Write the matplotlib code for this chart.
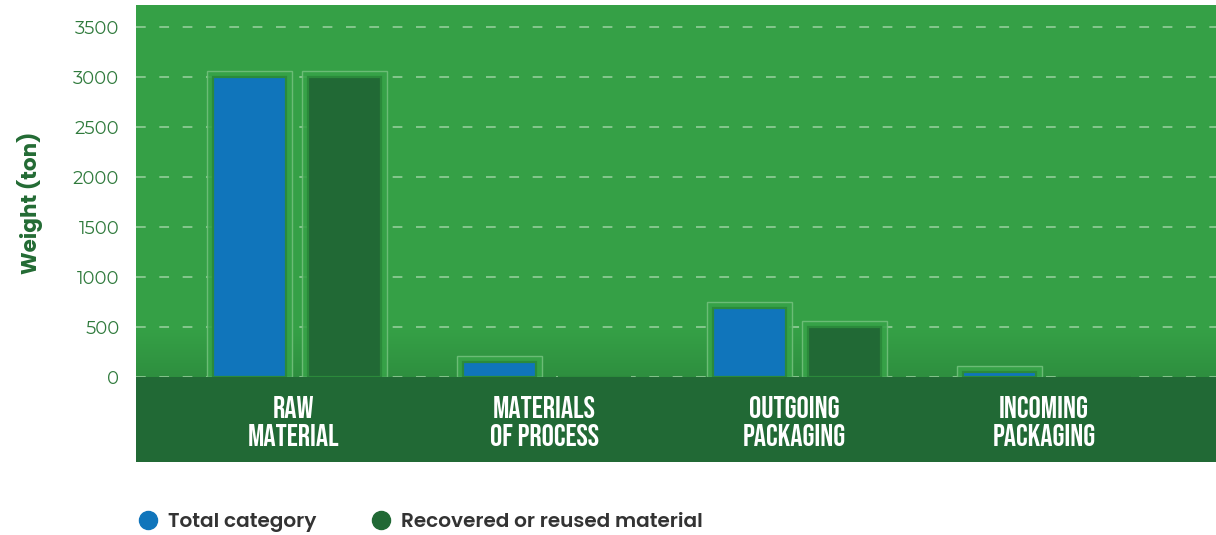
import matplotlib

matplotlib.use("Agg")
import matplotlib.pyplot as plt
import numpy as np
from matplotlib.colors import LinearSegmentedColormap
from matplotlib.lines import Line2D

categories = ["RAW\nMATERIAL", "MATERIALS\nOF PROCESS", "OUTGOING\nPACKAGING", "INCOMING\nPACKAGING"]
total_category = [3000, 150, 690, 50]
recovered = [3000, 0, 500, 0]
series_labels = ["Total category", "Recovered or reused material"]
y_ticks = [0, 500, 1000, 1500, 2000, 2500, 3000, 3500]

BG_GREEN = "#35a046"
BAND_GREEN = "#216935"
BLUE = "#1075bb"
DARK_GREEN = "#216935"
OUTLINE = "#72c07c"
DIGITS = ["Montserrat Alternates", "Poppins", "DejaVu Sans"]
SANS = ["Poppins", "Lato", "DejaVu Sans"]
CONDENSED = ["Bebas Neue", "Oswald", "DejaVu Sans"]

fig = plt.figure(figsize=(12.16, 5.35), dpi=100)
ax = fig.add_axes([136 / 1216, 73 / 535, 1 - 136 / 1216, 457 / 535])

x = np.arange(len(categories))
xmin, xmax = -0.644, 3.676
ymin, ymax = -850, 3720
ax.set_xlim(xmin, xmax)
ax.set_ylim(ymin, ymax)

# flat green, slightly darker towards the baseline, dark band below zero
ax.axhspan(0, ymax, color=BG_GREEN, zorder=0, linewidth=0)
grad = np.linspace(1, 0, 100).reshape(-1, 1)
cmap = LinearSegmentedColormap.from_list("g", [BG_GREEN, "#2e8f3f"])
ax.imshow(grad, extent=[xmin, xmax, 0, 470], aspect="auto", cmap=cmap, zorder=0.5,
          origin="lower", vmin=0, vmax=1)
ax.axhspan(ymin, 0, color=BAND_GREEN, zorder=3, linewidth=0)

for t in y_ticks:
    ax.axhline(t, color="#9ad09f", linewidth=1.4, dashes=(5, 7), zorder=1, alpha=0.8)

width = 0.29
offset = 0.19
pad_x = 0.024
pad_y = 60
for vals, sign, color in [(total_category, -1, BLUE), (recovered, 1, DARK_GREEN)]:
    pos = x + sign * offset
    for p, v in zip(pos, vals):
        if v <= 0:
            continue
        ax.bar(p, v + pad_y, width=width + 2 * pad_x, color="#37a348",
               edgecolor=OUTLINE, linewidth=1.0, alpha=0.9, zorder=1.5)
    ax.bar(pos, vals, width=width, color=color, edgecolor="#2b8a3b", linewidth=1.6, zorder=2)

for xi, lab in zip(x - 0.012, categories):
    ax.text(xi, -440, lab, ha="center", va="center", color="white", fontsize=22,
            family=CONDENSED, linespacing=1.3, zorder=4)

ax.set_xticks([])
ax.set_yticks(y_ticks)
ax.set_yticklabels([str(t) for t in y_ticks], color="#2f7a3c", fontsize=13, family=DIGITS)
ax.tick_params(axis="y", length=0, pad=12)
for s in ax.spines.values():
    s.set_visible(False)

fig.text(30 / 1216, 1 - 203 / 535, "Weight (ton)", rotation=90, ha="center", va="center",
         color="#236b34", fontsize=15.5, fontweight="bold", family=SANS)

handles = [
    Line2D([], [], marker="o", linestyle="", markersize=13, color=BLUE),
    Line2D([], [], marker="o", linestyle="", markersize=13, color=DARK_GREEN),
]
fig.legend(handles, series_labels, loc="center left", bbox_to_anchor=(110 / 1216, 1 - 522 / 535),
           ncol=2, frameon=False, handletextpad=0.0, columnspacing=2.2,
           prop={"family": SANS, "weight": "semibold", "size": 14.5},
           labelcolor="#333333")

fig.savefig("out.png", dpi=100)
